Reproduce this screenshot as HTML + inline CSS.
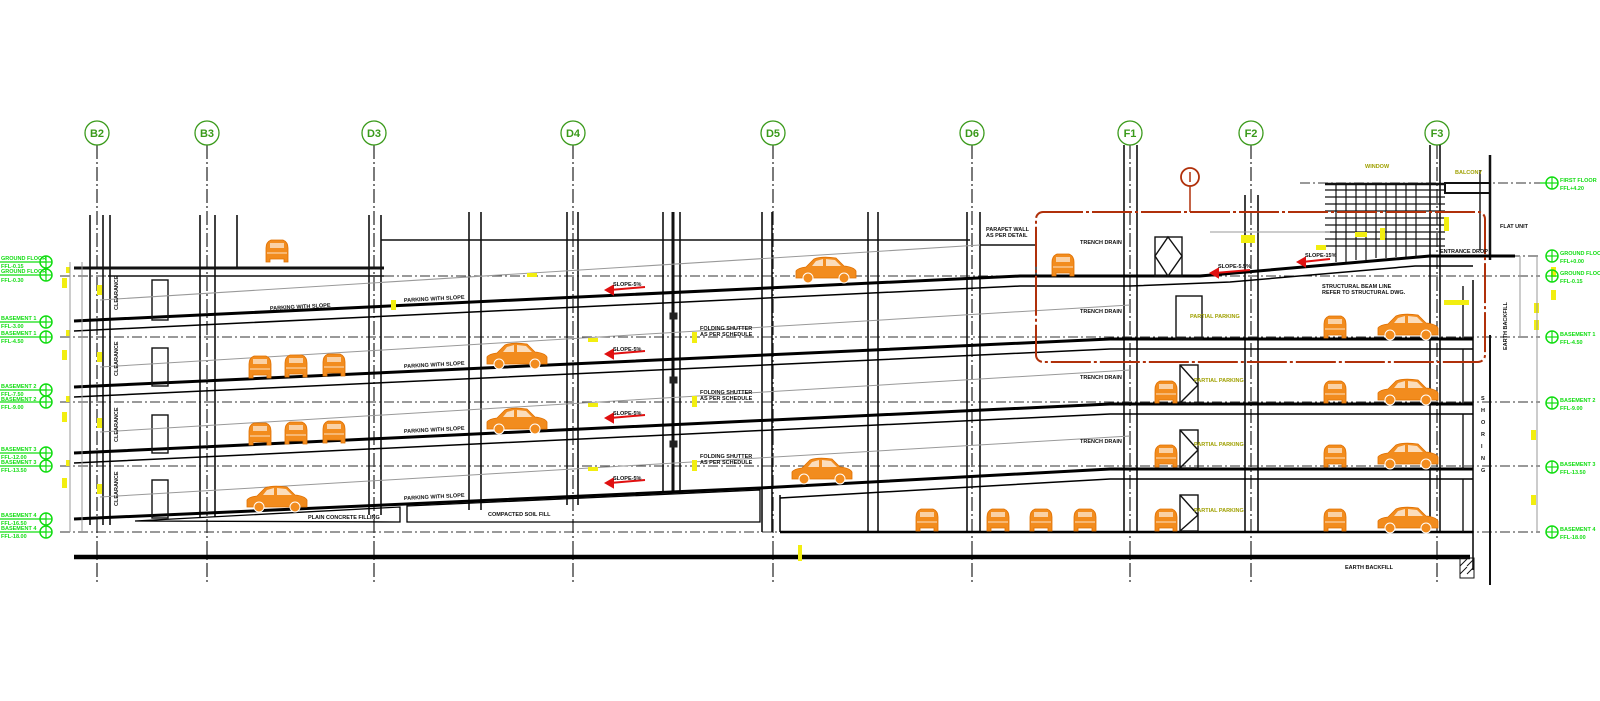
<!DOCTYPE html>
<html><head><meta charset="utf-8"><style>
html,body{margin:0;padding:0;background:#fff;}
svg{display:block;}
text{font-family:"Liberation Sans",sans-serif;font-weight:bold;}
</style></head><body>
<svg width="1600" height="701" viewBox="0 0 1600 701" xmlns="http://www.w3.org/2000/svg">
<defs>
<g id="cf"><path d="M-11,0 L-11,-14 Q-11,-20 -6,-22 L6,-22 Q11,-20 11,-14 L11,0 L7,0 L7,-3 L-7,-3 L-7,0 Z" fill="#f28c1e" stroke="#e07000" stroke-width="0.8"/><rect x="-7" y="-19" width="14" height="5" fill="#fff" opacity="0.6"/><line x1="-10" y1="-9" x2="10" y2="-9" stroke="#fff" stroke-width="0.8"/></g>
<g id="cs"><path d="M-30,-3 L-30,-10 Q-28,-13 -20,-14 L-12,-22 Q-5,-25 10,-23 L18,-15 Q28,-14 30,-10 L30,-3 Z" fill="#f28c1e" stroke="#e07000" stroke-width="0.8"/><path d="M-10,-20 L-3,-22 L-3,-15 L-14,-15 Z M0,-22 L9,-21 L15,-15 L0,-15 Z" fill="#fff" opacity="0.7"/><circle cx="-18" cy="-3" r="5" fill="#f28c1e" stroke="#fff" stroke-width="1"/><circle cx="18" cy="-3" r="5" fill="#f28c1e" stroke="#fff" stroke-width="1"/></g>
<g id="tg"><circle cx="0" cy="0" r="6" fill="none" stroke="#11dd11" stroke-width="1.5"/><line x1="-6" y1="0" x2="6" y2="0" stroke="#11dd11" stroke-width="1.2"/><line x1="0" y1="-6" x2="0" y2="6" stroke="#11dd11" stroke-width="1.2"/></g>
</defs>

<!-- grid lines -->
<g stroke="#222" stroke-width="1.2" stroke-dasharray="14,3,2,3" fill="none">
<line x1="97" y1="145" x2="97" y2="582"/><line x1="207" y1="145" x2="207" y2="582"/><line x1="374" y1="145" x2="374" y2="582"/><line x1="573" y1="145" x2="573" y2="582"/><line x1="773" y1="145" x2="773" y2="582"/><line x1="972" y1="145" x2="972" y2="582"/><line x1="1130" y1="145" x2="1130" y2="582"/><line x1="1251" y1="145" x2="1251" y2="582"/><line x1="1437" y1="145" x2="1437" y2="582"/>
</g>
<g fill="none" stroke="#3a9a1a" stroke-width="1.3">
<circle cx="97" cy="133" r="12"/><circle cx="207" cy="133" r="12"/><circle cx="374" cy="133" r="12"/><circle cx="573" cy="133" r="12"/><circle cx="773" cy="133" r="12"/><circle cx="972" cy="133" r="12"/><circle cx="1130" cy="133" r="12"/><circle cx="1251" cy="133" r="12"/><circle cx="1437" cy="133" r="12"/>
</g>
<g fill="#3a9a1a" font-size="11" text-anchor="middle" style="font-weight:normal">
<text x="97" y="137">B2</text><text x="207" y="137">B3</text><text x="374" y="137">D3</text><text x="573" y="137">D4</text><text x="773" y="137">D5</text><text x="972" y="137">D6</text><text x="1130" y="137">F1</text><text x="1251" y="137">F2</text><text x="1437" y="137">F3</text>
</g>

<!-- dashed level lines -->
<g stroke="#333" stroke-width="1" stroke-dasharray="10,3,2,3">
<line x1="60" y1="276" x2="1540" y2="276"/><line x1="60" y1="337" x2="1540" y2="337"/><line x1="60" y1="402" x2="1540" y2="402"/><line x1="60" y1="466" x2="1540" y2="466"/><line x1="60" y1="532" x2="1540" y2="532"/><line x1="1300" y1="183" x2="1540" y2="183"/><line x1="1420" y1="256" x2="1540" y2="256"/>
</g>

<!-- columns -->
<g stroke="#111" stroke-width="1.6">
<line x1="90" y1="215" x2="90" y2="525"/><line x1="103" y1="215" x2="103" y2="525"/><line x1="110" y1="215" x2="110" y2="525"/>
<line x1="200" y1="215" x2="200" y2="517"/><line x1="215" y1="215" x2="215" y2="517"/><line x1="237" y1="215" x2="237" y2="268"/>
<line x1="369" y1="215" x2="369" y2="515"/><line x1="381" y1="215" x2="381" y2="515"/>
<line x1="469" y1="212" x2="469" y2="510"/><line x1="481" y1="212" x2="481" y2="510"/>
<line x1="567" y1="212" x2="567" y2="505"/><line x1="578" y1="212" x2="578" y2="505"/>
<line x1="663" y1="212" x2="663" y2="492"/><line x1="673" y1="212" x2="673" y2="492" stroke-width="3"/><line x1="680" y1="212" x2="680" y2="492"/>
<line x1="762" y1="212" x2="762" y2="532"/><line x1="772" y1="212" x2="772" y2="532"/>
<line x1="868" y1="212" x2="868" y2="532"/><line x1="878" y1="212" x2="878" y2="532"/>
<line x1="967" y1="212" x2="967" y2="532"/><line x1="980" y1="212" x2="980" y2="532"/>
<line x1="1124" y1="145" x2="1124" y2="532"/><line x1="1137" y1="145" x2="1137" y2="532"/>
<line x1="1245" y1="195" x2="1245" y2="532"/><line x1="1258" y1="195" x2="1258" y2="532"/>
<line x1="1430" y1="145" x2="1430" y2="532"/><line x1="1440" y1="145" x2="1440" y2="532"/>
<line x1="1473" y1="280" x2="1473" y2="570"/><line x1="1490" y1="155" x2="1490" y2="260" stroke-width="2.5"/><line x1="1490" y1="335" x2="1490" y2="585" stroke-width="2"/>
</g>

<!-- upper building outline -->
<g stroke="#111" stroke-width="1.4" fill="none">
<line x1="381" y1="240" x2="970" y2="240"/>
<line x1="74" y1="268" x2="384" y2="268" stroke-width="3"/><line x1="108" y1="276" x2="384" y2="276"/>
<line x1="1036" y1="276" x2="1036" y2="245"/><line x1="1036" y1="245" x2="980" y2="245"/>
</g>

<!-- slabs -->
<g stroke="#000" fill="none">
<polyline points="74,321 1020,276 1200,276 1430,256 1515,256" stroke-width="3"/>
<polyline points="74,331 1020,286 1130,286 1230,282 1415,266 1473,266" stroke-width="1.5"/>
<polyline points="74,387 1110,339 1473,339" stroke-width="3"/>
<polyline points="74,397 1110,349 1473,349" stroke-width="1.5"/>
<polyline points="74,453 1110,404 1473,404" stroke-width="3"/>
<polyline points="74,463 1110,414 1473,414" stroke-width="1.5"/>
<polyline points="74,519 760,488 1110,469 1473,469" stroke-width="3"/>
<polyline points="780,498 1110,479 1473,479" stroke-width="1.5"/>
<line x1="780" y1="532" x2="1473" y2="532" stroke-width="2.5"/>
<line x1="780" y1="495" x2="780" y2="532" stroke-width="1.5"/>
<line x1="74" y1="557" x2="1470" y2="557" stroke-width="4.5"/>
<polygon points="135,521 400,507 400,522" stroke-width="1.3"/>
<polygon points="407,506 760,490 760,522 407,522" stroke-width="1.3"/>
</g>

<!-- right inner boxes -->
<g stroke="#111" stroke-width="1.4" fill="none">
<line x1="1463" y1="286" x2="1463" y2="339"/><line x1="1463" y1="349" x2="1463" y2="404"/><line x1="1463" y1="414" x2="1463" y2="469"/><line x1="1463" y1="479" x2="1463" y2="532"/>
<rect x="1176" y1="0" y="296" width="26" height="43"/>
<rect x="1180" y="365" width="18" height="38"/><rect x="1180" y="430" width="18" height="38"/><rect x="1180" y="495" width="18" height="36"/>
<rect x="1155" y="237" width="27" height="39"/>
<rect x="152" y="280" width="16" height="40"/><rect x="152" y="348" width="16" height="38"/><rect x="152" y="415" width="16" height="38"/><rect x="152" y="480" width="16" height="38"/>
<line x1="1180" y1="365" x2="1198" y2="385"/><line x1="1198" y1="385" x2="1180" y2="403"/>
<line x1="1180" y1="430" x2="1198" y2="450"/><line x1="1198" y1="450" x2="1180" y2="468"/>
<line x1="1180" y1="495" x2="1198" y2="515"/><line x1="1198" y1="515" x2="1180" y2="531"/>
<polygon points="1168,237 1182,256 1168,276 1155,256"/>
<line x1="1480" y1="250" x2="1480" y2="170"/>
</g>
<!-- hatch -->
<g stroke="#111" stroke-width="1"><rect x="1460" y="558" width="14" height="20" fill="none"/><line x1="1460" y1="566" x2="1467" y2="559"/><line x1="1467" y1="566" x2="1474" y2="559"/><line x1="1460" y1="574" x2="1467" y2="567"/><line x1="1467" y1="574" x2="1474" y2="567"/></g>

<!-- louver -->
<g stroke="#111" stroke-width="1.2">
<line x1="1325" y1="184" x2="1445" y2="184" stroke-width="2.5"/><line x1="1325" y1="190" x2="1445" y2="190"/><line x1="1325" y1="197" x2="1445" y2="197"/><line x1="1325" y1="204" x2="1445" y2="204"/><line x1="1325" y1="211" x2="1445" y2="211"/><line x1="1325" y1="218" x2="1445" y2="218"/><line x1="1325" y1="225" x2="1445" y2="225"/><line x1="1325" y1="232" x2="1445" y2="232"/><line x1="1325" y1="239" x2="1445" y2="239"/><line x1="1325" y1="246" x2="1445" y2="246"/>
<line x1="1336" y1="184" x2="1336" y2="262"/><line x1="1346" y1="184" x2="1346" y2="262"/><line x1="1356" y1="184" x2="1356" y2="260"/><line x1="1366" y1="184" x2="1366" y2="260"/><line x1="1376" y1="184" x2="1376" y2="258"/><line x1="1386" y1="184" x2="1386" y2="258"/><line x1="1396" y1="184" x2="1396" y2="257"/><line x1="1406" y1="184" x2="1406" y2="257"/><line x1="1416" y1="184" x2="1416" y2="257"/>
<rect x="1445" y="183" width="45" height="10" fill="none" stroke-width="2"/>
</g>

<!-- gray leader lines -->
<g stroke="#999" stroke-width="1">
<line x1="100" y1="300" x2="980" y2="245"/><line x1="100" y1="367" x2="1130" y2="305"/><line x1="100" y1="432" x2="1130" y2="370"/><line x1="100" y1="497" x2="1130" y2="436"/>
<line x1="1210" y1="232" x2="1330" y2="232"/>
</g>

<!-- red -->
<rect x="1036" y="212" width="449" height="150" rx="7" fill="none" stroke="#b0300a" stroke-width="2" stroke-dasharray="40,3,3,3"/>
<circle cx="1190" cy="177" r="9" fill="none" stroke="#b0300a" stroke-width="1.8"/><line x1="1190" y1="172" x2="1190" y2="182" stroke="#b0300a" stroke-width="1.5"/><line x1="1190" y1="186" x2="1190" y2="212" stroke="#b0300a" stroke-width="1.5"/>
<g stroke="#e01010" stroke-width="2" fill="#e01010">
<line x1="610" y1="290" x2="645" y2="287"/><polygon points="606,290 613,286 613,294"/>
<line x1="610" y1="354" x2="645" y2="351"/><polygon points="606,354 613,350 613,358"/>
<line x1="610" y1="418" x2="645" y2="415"/><polygon points="606,418 613,414 613,422"/>
<line x1="610" y1="483" x2="645" y2="480"/><polygon points="606,483 613,479 613,487"/>
<line x1="1215" y1="273" x2="1250" y2="270"/><polygon points="1211,273 1218,269 1218,277"/>
<line x1="1302" y1="262" x2="1330" y2="259"/><polygon points="1298,262 1305,258 1305,266"/>
</g>

<!-- yellow markers -->
<g fill="#f2ee10">
<rect x="62" y="278" width="5" height="10"/><rect x="62" y="350" width="5" height="10"/><rect x="62" y="412" width="5" height="10"/><rect x="62" y="478" width="5" height="10"/>
<rect x="97" y="285" width="5" height="10"/><rect x="97" y="352" width="5" height="10"/><rect x="97" y="418" width="5" height="10"/><rect x="97" y="484" width="5" height="10"/>
<rect x="66" y="267" width="4" height="6"/><rect x="66" y="330" width="4" height="6"/><rect x="66" y="396" width="4" height="6"/><rect x="66" y="460" width="4" height="6"/>
<rect x="527" y="273" width="10" height="4"/><rect x="588" y="338" width="10" height="4"/><rect x="588" y="403" width="10" height="4"/><rect x="588" y="467" width="10" height="4"/>
<rect x="692" y="332" width="5" height="11"/><rect x="692" y="396" width="5" height="11"/><rect x="692" y="460" width="5" height="11"/>
<rect x="391" y="300" width="5" height="10"/><rect x="798" y="545" width="4" height="16"/>
<rect x="1241" y="235" width="14" height="8"/><rect x="1380" y="228" width="5" height="12"/><rect x="1444" y="217" width="5" height="14"/>
<rect x="1355" y="232" width="12" height="5"/><rect x="1316" y="245" width="10" height="5"/>
<rect x="1551" y="267" width="5" height="10"/><rect x="1551" y="290" width="5" height="10"/><rect x="1534" y="303" width="5" height="10"/><rect x="1534" y="320" width="5" height="10"/>
<rect x="1531" y="430" width="5" height="10"/><rect x="1531" y="495" width="5" height="10"/><rect x="1444" y="300" width="25" height="5"/>
</g>
<g fill="#9fa000" font-size="5.5">
<text x="1365" y="168">WINDOW</text><text x="1455" y="174">BALCONY</text>
<text x="1190" y="318">PARTIAL PARKING</text><text x="1194" y="382">PARTIAL PARKING</text><text x="1194" y="446">PARTIAL PARKING</text><text x="1194" y="512">PARTIAL PARKING</text>
</g>

<!-- cars -->
<use href="#cf" x="277" y="262"/>
<use href="#cf" x="260" y="378"/><use href="#cf" x="296" y="377"/><use href="#cf" x="334" y="376"/>
<use href="#cf" x="260" y="445"/><use href="#cf" x="296" y="444"/><use href="#cf" x="334" y="443"/>
<use href="#cf" x="927" y="531"/><use href="#cf" x="998" y="531"/><use href="#cf" x="1041" y="531"/><use href="#cf" x="1085" y="531"/>
<use href="#cf" x="1166" y="531"/><use href="#cf" x="1166" y="467"/><use href="#cf" x="1166" y="403"/><use href="#cf" x="1063" y="276"/>
<use href="#cf" x="1335" y="338"/><use href="#cf" x="1335" y="403"/><use href="#cf" x="1335" y="467"/><use href="#cf" x="1335" y="531"/>
<use href="#cs" x="826" y="281"/><use href="#cs" x="517" y="367"/><use href="#cs" x="517" y="432"/><use href="#cs" x="822" y="482"/><use href="#cs" x="277" y="510"/>
<use href="#cs" x="1408" y="338"/><use href="#cs" x="1408" y="403"/><use href="#cs" x="1408" y="467"/><use href="#cs" x="1408" y="531"/>

<!-- labels -->
<g fill="#111" font-size="5.5">
<text transform="translate(270,310) rotate(-3)">PARKING WITH SLOPE</text>
<text transform="translate(404,302) rotate(-3)">PARKING WITH SLOPE</text>
<text transform="translate(404,368) rotate(-3)">PARKING WITH SLOPE</text>
<text transform="translate(404,433) rotate(-3)">PARKING WITH SLOPE</text>
<text transform="translate(404,500) rotate(-3)">PARKING WITH SLOPE</text>
<text x="308" y="519">PLAIN CONCRETE FILLING</text>
<text x="488" y="516">COMPACTED SOIL FILL</text>
<text x="1345" y="569">EARTH BACKFILL</text>
<text x="613" y="286">SLOPE-5%</text><text x="613" y="351">SLOPE-5%</text><text x="613" y="415">SLOPE-5%</text><text x="613" y="480">SLOPE-5%</text>
<text x="1218" y="268">SLOPE-5.5%</text><text x="1305" y="257">SLOPE-15%</text>
<text x="700" y="330">FOLDING SHUTTER</text><text x="700" y="336">AS PER SCHEDULE</text>
<text x="700" y="394">FOLDING SHUTTER</text><text x="700" y="400">AS PER SCHEDULE</text>
<text x="700" y="458">FOLDING SHUTTER</text><text x="700" y="464">AS PER SCHEDULE</text>
<text x="986" y="231">PARAPET WALL</text><text x="986" y="237">AS PER DETAIL</text>
<text x="1080" y="244">TRENCH DRAIN</text><text x="1080" y="313">TRENCH DRAIN</text><text x="1080" y="379">TRENCH DRAIN</text><text x="1080" y="443">TRENCH DRAIN</text>
<text x="1322" y="288">STRUCTURAL BEAM LINE</text><text x="1322" y="294">REFER TO STRUCTURAL DWG.</text>
<text x="1440" y="253">ENTRANCE DROP</text><text x="1500" y="228">FLAT UNIT</text>
<text transform="translate(1507,350) rotate(-90)">EARTH BACKFILL</text>
<text transform="translate(118,310) rotate(-90)">CLEARANCE</text><text transform="translate(118,376) rotate(-90)">CLEARANCE</text><text transform="translate(118,442) rotate(-90)">CLEARANCE</text><text transform="translate(118,506) rotate(-90)">CLEARANCE</text>
<text x="1481" y="400">S</text><text x="1481" y="412">H</text><text x="1481" y="424">O</text><text x="1481" y="436">R</text><text x="1481" y="448">I</text><text x="1481" y="460">N</text><text x="1481" y="472">G</text>
</g>
<g stroke="#222" fill="#222"><rect x="670" y="313" width="7" height="6"/><rect x="670" y="377" width="7" height="6"/><rect x="670" y="441" width="7" height="6"/></g>

<!-- left tags -->
<g stroke="#11dd11" stroke-width="1.3">
<line x1="0" y1="262" x2="46" y2="262"/><line x1="0" y1="275" x2="46" y2="275"/><line x1="0" y1="322" x2="46" y2="322"/><line x1="0" y1="337" x2="46" y2="337"/><line x1="0" y1="390" x2="46" y2="390"/><line x1="0" y1="402" x2="46" y2="402"/><line x1="0" y1="453" x2="46" y2="453"/><line x1="0" y1="466" x2="46" y2="466"/><line x1="0" y1="519" x2="46" y2="519"/><line x1="0" y1="532" x2="46" y2="532"/>
</g>
<use href="#tg" x="46" y="262"/><use href="#tg" x="46" y="275"/><use href="#tg" x="46" y="322"/><use href="#tg" x="46" y="337"/><use href="#tg" x="46" y="390"/><use href="#tg" x="46" y="402"/><use href="#tg" x="46" y="453"/><use href="#tg" x="46" y="466"/><use href="#tg" x="46" y="519"/><use href="#tg" x="46" y="532"/>
<g fill="#11dd11" font-size="5.5">
<text x="1" y="260">GROUND FLOOR</text><text x="1" y="268">FFL-0.15</text><text x="1" y="273">GROUND FLOOR</text><text x="1" y="282">FFL-0.30</text>
<text x="1" y="320">BASEMENT 1</text><text x="1" y="328">FFL-3.00</text><text x="1" y="335">BASEMENT 1</text><text x="1" y="343">FFL-4.50</text>
<text x="1" y="388">BASEMENT 2</text><text x="1" y="396">FFL-7.50</text><text x="1" y="401">BASEMENT 2</text><text x="1" y="409">FFL-9.00</text>
<text x="1" y="451">BASEMENT 3</text><text x="1" y="459">FFL-12.00</text><text x="1" y="464">BASEMENT 3</text><text x="1" y="472">FFL-13.50</text>
<text x="1" y="517">BASEMENT 4</text><text x="1" y="525">FFL-16.50</text><text x="1" y="530">BASEMENT 4</text><text x="1" y="538">FFL-18.00</text>
</g>
<!-- right tags -->
<g stroke="#11dd11" stroke-width="1.3"><line x1="1540" y1="183" x2="1546" y2="183"/></g>
<use href="#tg" x="1552" y="183"/><use href="#tg" x="1552" y="256"/><use href="#tg" x="1552" y="276"/><use href="#tg" x="1552" y="337"/><use href="#tg" x="1552" y="403"/><use href="#tg" x="1552" y="467"/><use href="#tg" x="1552" y="532"/>
<g fill="#11dd11" font-size="5.5">
<text x="1560" y="182">FIRST FLOOR</text><text x="1560" y="190">FFL+4.20</text>
<text x="1560" y="255">GROUND FLOOR</text><text x="1560" y="263">FFL+0.00</text>
<text x="1560" y="275">GROUND FLOOR</text><text x="1560" y="283">FFL-0.15</text>
<text x="1560" y="336">BASEMENT 1</text><text x="1560" y="344">FFL-4.50</text>
<text x="1560" y="402">BASEMENT 2</text><text x="1560" y="410">FFL-9.00</text>
<text x="1560" y="466">BASEMENT 3</text><text x="1560" y="474">FFL-13.50</text>
<text x="1560" y="531">BASEMENT 4</text><text x="1560" y="539">FFL-18.00</text>
</g>
<g stroke="#999" stroke-width="1"><line x1="1537" y1="256" x2="1537" y2="532"/><line x1="1520" y1="256" x2="1520" y2="337"/><line x1="82" y1="262" x2="82" y2="532"/><line x1="70" y1="262" x2="70" y2="532"/></g>
</svg>
</body></html>
